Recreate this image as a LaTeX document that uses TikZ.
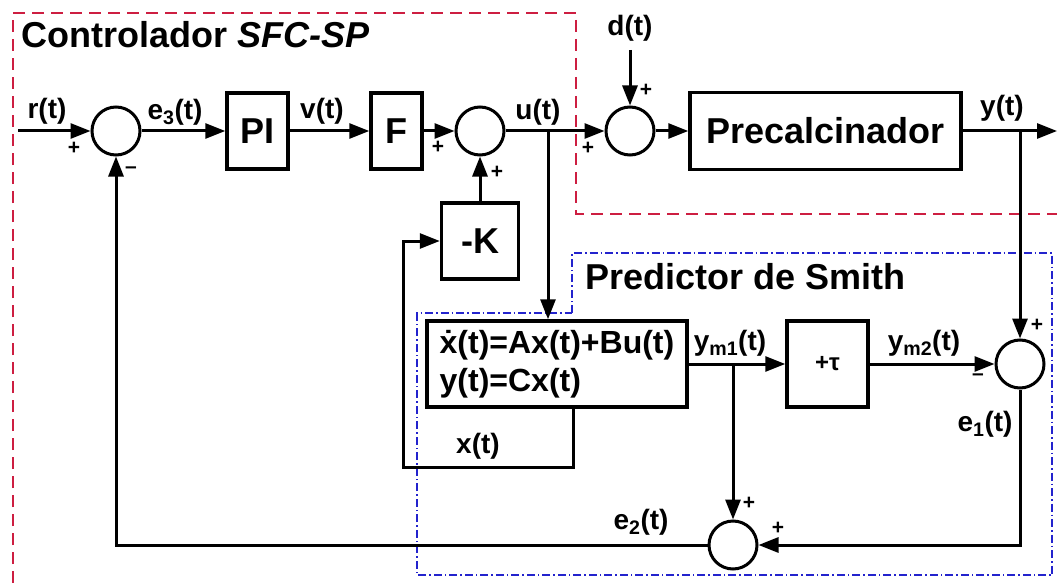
\documentclass[tikz,border=0pt]{standalone}
\usepackage{fontspec}
\setmainfont{Liberation Sans}
\usetikzlibrary{arrows.meta}
\definecolor{rougecadre}{RGB}{205,30,65}
\definecolor{bleucadre}{RGB}{35,35,205}

\begin{document}
\begin{tikzpicture}[x=1pt,y=-1pt]
	% Styles (MODIFIABLES)
	\tikzstyle{fleche}=[-{Triangle[length=20pt,width=15pt]},line width=3pt]
	\tikzstyle{bloc}=[draw,line width=3.5pt,inner sep=0pt,font=\fontsize{36}{40}\selectfont\bfseries]
	\tikzstyle{sommateur}=[draw,circle,line width=3pt,minimum size=48pt,inner sep=0pt]
	\tikzstyle{signal}=[inner sep=0pt,font=\fontsize{28}{32}\selectfont\bfseries]
	\tikzstyle{signe}=[inner sep=0pt,font=\fontsize{21}{21}\selectfont\bfseries]
	\tikzstyle{titre}=[inner sep=0pt,anchor=base west,font=\fontsize{36}{40}\selectfont\bfseries]
	\tikzstyle{cadreA}=[rougecadre,line width=2pt,dash pattern=on 12pt off 7pt]
	\tikzstyle{cadreB}=[bleucadre,line width=2pt,dash pattern=on 8pt off 3pt on 1.5pt off 3pt]
	% Lignes (MODIFIABLES)
	\def\LigneA{131}
	\def\LigneB{241}
	\def\LigneC{364}
	\def\LigneD{545}
	\useasboundingbox (0,0) rectangle (1057,583);
	% Cadres
	\draw[cadreA] (13,583) -- (13,13) -- (576,13) -- (576,214) -- (1057,214);
	\draw[cadreB] (572,313) -- (572,253) -- (1052,253) -- (1052,575) -- (417,575) -- (417,313) -- cycle;
	\node[titre] (titreA) at (21,48) {Controlador \textit{SFC-SP}};
	\node[titre] (titreB) at (585,289) {Predictor de Smith};
	% Noeuds
	\coordinate (entree) at (18,\LigneA);
	\node[sommateur] (S1) at (116,\LigneA) {};
	\node[bloc,minimum width=61pt,minimum height=76pt] (PI) at (257.5,\LigneA) {PI};
	\node[bloc,minimum width=51pt,minimum height=76pt] (F) at (396.5,\LigneA) {F};
	\node[sommateur] (S2) at (480,\LigneA) {};
	\coordinate (Ju) at (548,\LigneA);
	\node[sommateur] (S3) at (630,\LigneA) {};
	\coordinate (D) at (630,50);
	\node[bloc,minimum width=271pt,minimum height=77pt] (P) at (825.5,\LigneA) {Precalcinador};
	\coordinate (Jy) at (1020,\LigneA);
	\coordinate (sortie) at (1057,\LigneA);
	\node[bloc,minimum width=77pt,minimum height=76pt] (K) at (480,\LigneB) {-K};
	\node[bloc,minimum width=260pt,minimum height=86pt,align=left,font=\fontsize{32}{38}\selectfont\bfseries] (M) at (557,\LigneC) {\.{x}(t)=Ax(t)+Bu(t)\\y(t)=Cx(t)};
	\coordinate (Bx) at (403,467);
	\coordinate (Jm) at (733,\LigneC);
	\node[bloc,minimum width=81pt,minimum height=86pt,font=\fontsize{24}{28}\selectfont\bfseries] (T) at (827.5,\LigneC) {+τ};
	\node[sommateur] (S4) at (1020,\LigneC) {};
	\node[sommateur] (S5) at (733,\LigneD) {};
	% Etiquettes
	\node[signal] (r) at (47,111) {r(t)};
	\node[signal] (e3) at (175,112) {e\textsubscript{3}(t)};
	\node[signal] (v) at (322,111) {v(t)};
	\node[signal] (u) at (538,112) {u(t)};
	\node[signal] (d) at (630,28) {d(t)};
	\node[signal] (y) at (1002,108) {y(t)};
	\node[signal] (ym1) at (730,343) {y\textsubscript{m1}(t)};
	\node[signal] (ym2) at (924,343) {y\textsubscript{m2}(t)};
	\node[signal] (e1) at (985,424) {e\textsubscript{1}(t)};
	\node[signal] (e2) at (641,522) {e\textsubscript{2}(t)};
	\node[signal] (x) at (478,446) {x(t)};
	% Signes
	\node[signe] at (74,148) {+};
	\node[signe] at (131,170) {–};
	\node[signe] at (438,147) {+};
	\node[signe] at (497,172) {+};
	\node[signe] at (588,148) {+};
	\node[signe] at (646,90) {+};
	\node[signe] at (1037,325) {+};
	\node[signe] at (978,377) {–};
	\node[signe] at (749,503) {+};
	\node[signe] at (778,528) {+};
	% Arcs
	\draw[fleche] (entree) -- (S1.west);
	\draw[fleche] (S1.east) -- (PI.west);
	\draw[fleche] (PI.east) -- (F.west);
	\draw[fleche] (F.east) -- (S2.west);
	\draw[fleche] (S2.east) -- (S3.west);
	\draw[fleche] (D) -- (S3.north);
	\draw[fleche] (S3.east) -- (P.west);
	\draw[fleche] (P.east) -- (sortie);
	\draw[fleche] (Ju) -- (Ju |- M.north);
	\draw[fleche] (K.north) -- (S2.south);
	\draw[fleche] ([xshift=16pt]M.south) |- (Bx) |- (K.west);
	\draw[fleche] (M.east) -- (T.west);
	\draw[fleche] (T.east) -- (S4.west);
	\draw[fleche] (Jy) -- (S4.north);
	\draw[fleche] (Jm) -- (S5.north);
	\draw[fleche] (S4.south) |- (S5.east);
	\draw[fleche] (S5.west) -| (S1.south);
\end{tikzpicture}
\end{document}
